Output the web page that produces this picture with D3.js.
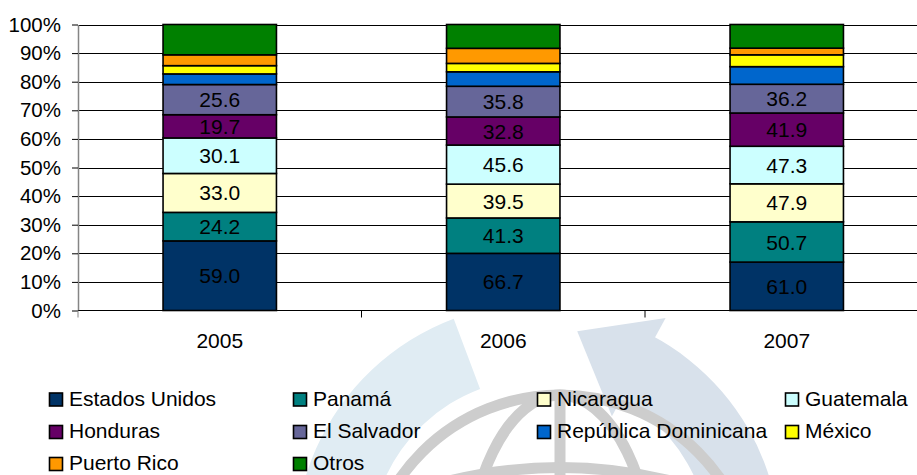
<!DOCTYPE html>
<html>
<head>
<meta charset="utf-8">
<script src="https://cdn.jsdelivr.net/npm/d3@7"></script>
<style>
  body { margin: 0; background: #fff; }
  svg { display: block; font-family: "Liberation Sans", Arial, sans-serif; }
</style>
</head>
<body>
<svg id="chart" width="917" height="475"></svg>
<script>
// Chart data: values by country of origin, per year (shown as 100% stacked bars)
const years = ['2005', '2006', '2007'];
const estadosUnidos = [59.0, 66.7, 61.0];
const panama = [24.2, 41.3, 50.7];
const nicaragua = [33.0, 39.5, 47.9];
const guatemala = [30.1, 45.6, 47.3];
const honduras = [19.7, 32.8, 41.9];
const elSalvador = [25.6, 35.8, 36.2];
const repDominicana = [9.0, 16.9, 22.2];
const mexico = [7.0, 9.8, 14.9];
const puertoRico = [9.2, 17.6, 8.4];
const otros = [25.7, 27.8, 29.8];

const seriesNames = ['Estados Unidos', 'Panamá', 'Nicaragua', 'Guatemala', 'Honduras',
  'El Salvador', 'República Dominicana', 'México', 'Puerto Rico', 'Otros'];
const seriesValues = [estadosUnidos, panama, nicaragua, guatemala, honduras,
  elSalvador, repDominicana, mexico, puertoRico, otros];
const labelled = [true, true, true, true, true, true, false, false, false, false];
const yTicks = [0, 0.1, 0.2, 0.3, 0.4, 0.5, 0.6, 0.7, 0.8, 0.9, 1];

const colors = ['#003366', '#008080', '#FFFFCC', '#CCFFFF', '#660066',
  '#666699', '#0066CC', '#FFFF00', '#FF9900', '#008000'];

// build rows for d3.stack
const rows = years.map((yr, i) => {
  const r = { year: yr };
  seriesNames.forEach((n, k) => { r[n] = seriesValues[k][i]; });
  return r;
});

const svg = d3.select('#chart');

// pale watermark behind the chart (globe with a curved arrow)
const wm = svg.append('g');
const cx = 540, cy = 548;
wm.append('path')
  .attr('transform', `translate(${cx},${cy})`)
  .attr('d', d3.arc()({ innerRadius: 170, outerRadius: 245, startAngle: -1.95, endAngle: -0.36 }))
  .attr('fill', '#e0ecf3');
wm.append('path')
  .attr('transform', `translate(${cx},${cy})`)
  .attr('d', d3.arc()({ innerRadius: 170, outerRadius: 240, startAngle: 0.48, endAngle: 2.0 }))
  .attr('fill', '#d8e1eb');
// arrow head
const ah = [[0.5, 150], [0.5, 262], [0.17, 220]].map(([a, r]) =>
  [cx + r * Math.sin(a), cy - r * Math.cos(a)]);
wm.append('path')
  .attr('d', 'M' + ah.join('L') + 'Z')
  .attr('fill', '#d8e1eb');
// globe
const gx = 560, gy = 590;
const globe = wm.append('g').attr('fill', 'none').attr('stroke', '#cdcdcd').attr('stroke-width', 11);
globe.append('circle').attr('cx', gx).attr('cy', gy).attr('r', 195);
globe.append('ellipse').attr('cx', gx).attr('cy', gy).attr('rx', 95).attr('ry', 195);
globe.append('line').attr('x1', gx).attr('x2', gx).attr('y1', gy - 195).attr('y2', gy + 195);
globe.append('path').attr('d', `M${gx - 172},${gy - 90} Q${gx},${gy - 155} ${gx + 172},${gy - 90}`);
globe.append('path').attr('d', `M${gx - 195},${gy} Q${gx},${gy - 40} ${gx + 195},${gy}`);

// scales
const plotLeft = 78, plotTop = 24.5, plotBottom = 310.5;
const x = d3.scaleBand().domain(years).range([plotLeft, 928.5])
  .paddingInner(0.6).paddingOuter(0.3);
const y = d3.scaleLinear().domain([0, 1]).range([plotBottom, plotTop]);

// gridlines
svg.append('g').selectAll('line').data(yTicks.slice(1)).join('line')
  .attr('x1', plotLeft).attr('x2', 930)
  .attr('y1', d => Math.round(y(d)) + 0.5).attr('y2', d => Math.round(y(d)) + 0.5)
  .attr('stroke', '#000').attr('stroke-width', 1);

// y axis
const yAxis = svg.append('g')
  .attr('transform', `translate(${plotLeft},0)`)
  .call(d3.axisLeft(y).tickValues(yTicks).tickFormat(d3.format('.0%')).tickSize(6).tickSizeOuter(0));
yAxis.select('.domain').attr('stroke', '#858585').attr('stroke-width', 1.5);
yAxis.selectAll('.tick line').attr('stroke', '#000');
yAxis.selectAll('.tick text')
  .attr('x', -17).attr('fill', '#000')
  .style('font-size', '20.5px').style('font-family', '"Liberation Sans", Arial, sans-serif');

// stacked bars
const stack = d3.stack().keys(seriesNames).offset(d3.stackOffsetExpand);
const layers = stack(rows);

const layerG = svg.append('g').selectAll('g').data(layers).join('g')
  .attr('fill', (d, i) => colors[i]);
layerG.selectAll('rect').data(d => d).join('rect')
  .attr('x', d => x(d.data.year))
  .attr('width', x.bandwidth())
  .attr('y', d => y(d[1]))
  .attr('height', d => y(d[0]) - y(d[1]))
  .attr('stroke', '#000').attr('stroke-width', 1.6);

// data labels (absolute values)
layers.forEach((layer, k) => {
  if (!labelled[k]) return;
  svg.append('g').selectAll('text').data(layer).join('text')
    .attr('x', d => x(d.data.year) + x.bandwidth() / 2)
    .attr('y', d => (y(d[0]) + y(d[1])) / 2)
    .attr('dy', '0.36em')
    .attr('text-anchor', 'middle')
    .style('font-size', '21px')
    .attr('fill', '#000')
    .text((d, i) => seriesValues[k][i].toFixed(1));
});

// x axis: line plus ticks between categories
const xAxis = svg.append('g');
xAxis.append('line')
  .attr('x1', plotLeft).attr('x2', 930)
  .attr('y1', plotBottom).attr('y2', plotBottom)
  .attr('stroke', '#000');
const bounds = d3.range(years.length + 1).map(i => x.range()[0] + i * x.step());
xAxis.selectAll('.xt').data(bounds).join('line')
  .attr('class', 'xt')
  .attr('x1', d => d).attr('x2', d => d)
  .attr('y1', plotBottom).attr('y2', plotBottom + 7)
  .attr('stroke', (d, i) => i === 0 ? '#858585' : '#000');
xAxis.selectAll('text').data(years).join('text')
  .attr('x', d => x(d) + x.bandwidth() / 2)
  .attr('y', 348)
  .attr('text-anchor', 'middle')
  .style('font-size', '21px')
  .text(d => d);

// legend: 4 columns
const colX = [49, 293, 537, 785];
const rowY = [392.5, 425, 457];
const legend = svg.append('g').selectAll('g').data(seriesNames).join('g')
  .attr('transform', (d, i) => `translate(${colX[i % 4]},${rowY[Math.floor(i / 4)]})`);
legend.append('rect')
  .attr('x', 0.5).attr('y', 0.5).attr('width', 13).attr('height', 13)
  .attr('fill', (d, i) => colors[i])
  .attr('stroke', '#000').attr('stroke-width', 1.6);
legend.append('text')
  .attr('x', 20).attr('y', 13)
  .style('font-size', '21px')
  .text(d => d);
</script>
</body>
</html>
